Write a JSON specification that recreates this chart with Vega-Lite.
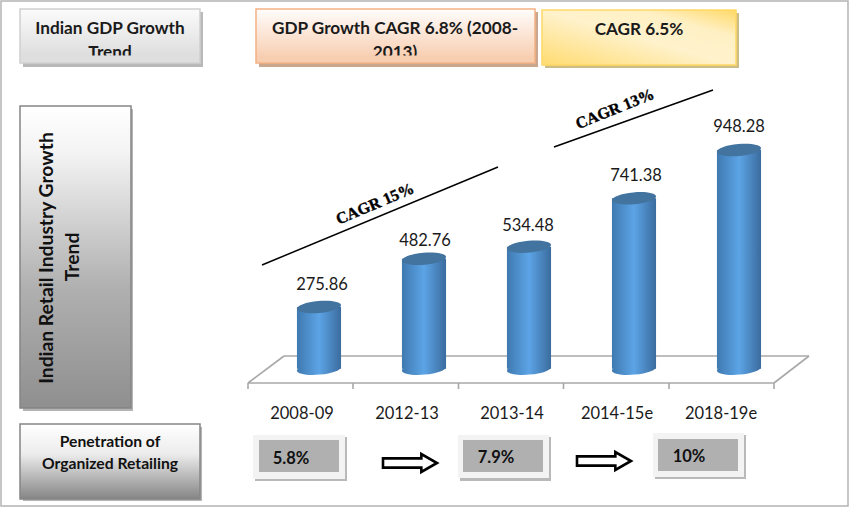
{
"$schema":"https://vega.github.io/schema/vega-lite/v6.json",
"width":850,"height":507,"padding":0,"autosize":{"type":"fit","contains":"padding"},
"background":"white",
"config":{"view":{"stroke":null},"text":{"font":"Lato"}},
"resolve":{"scale":{"x":"independent","y":"independent"}},
"layer":[
{"encoding":{
  "x":{"field":"x","type":"quantitative","scale":{"domain":[0,850],"nice":false,"zero":false},"axis":null},
  "y":{"field":"y","type":"quantitative","scale":{"domain":[507,0],"nice":false,"zero":false},"axis":null}},
 "layer":[
  {"data":{"values":[{"name":"frame","x":1,"y":1,"x2":848,"y2":506}]},
   "mark":{"type":"rect","fill":"white","stroke":"#b4b4b4","strokeWidth":1.5},
   "encoding":{"x2":{"field":"x2"},"y2":{"field":"y2"}}},
  {"data":{"values":[
    {"name":"front","x":248,"y":383,"x2":774,"y2":383},
    {"name":"back","x":284,"y":356,"x2":809,"y2":356},
    {"name":"left","x":248,"y":383,"x2":284,"y2":356},
    {"name":"right","x":774,"y":383,"x2":809,"y2":356},
    {"name":"t0","x":248,"y":383,"x2":248,"y2":389},
    {"name":"t1","x":353,"y":383,"x2":353,"y2":389},
    {"name":"t2","x":458.5,"y":383,"x2":458.5,"y2":389},
    {"name":"t3","x":563.5,"y":383,"x2":563.5,"y2":389},
    {"name":"t4","x":669,"y":383,"x2":669,"y2":389},
    {"name":"t5","x":774,"y":383,"x2":774,"y2":389}]},
   "mark":{"type":"rule","stroke":"#a8a8a8","strokeWidth":1.6},
   "encoding":{"x2":{"field":"x2"},"y2":{"field":"y2"}}}
 ]},
{"data":{"values":[
   {"period":"2008-09","value":275.86},
   {"period":"2012-13","value":482.76},
   {"period":"2013-14","value":534.48},
   {"period":"2014-15e","value":741.38},
   {"period":"2018-19e","value":948.28}]},
 "encoding":{
  "x":{"field":"period","type":"nominal","axis":null,"scale":{"domain":["2008-09","2012-13","2013-14","2014-15e","2018-19e"],"range":[266.5,791.5],"paddingInner":0.58,"paddingOuter":0.29}},
  "y":{"field":"value","type":"quantitative","axis":null,"scale":{"domain":[-580.3,1590.6],"nice":false,"zero":false}}},
 "layer":[
  {"mark":{"type":"point","filled":true,"opacity":1,"size":1945,"shape":"M-1,0.09 A1,0.27 -5 1 0 1,-0.09 A1,0.27 -5 1 0 -1,0.09 Z",
     "fill":{"gradient":"linear","x1":0,"y1":0,"x2":1,"y2":0,"stops":[{"offset":0,"color":"#3f79b0"},{"offset":0.5,"color":"#5ca4e6"},{"offset":1,"color":"#3b6c9e"}]}},
   "encoding":{"y":{"datum":12,"type":"quantitative","axis":null,"scale":{"domain":[-580.3,1590.6],"nice":false,"zero":false}}}},
  {"mark":{"type":"bar",
     "fill":{"gradient":"linear","x1":0,"y1":0,"x2":1,"y2":0,"stops":[{"offset":0,"color":"#3f79b0"},{"offset":0.5,"color":"#5ca4e6"},{"offset":1,"color":"#3b6c9e"}]}},
   "encoding":{"y2":{"datum":12}}},
  {"mark":{"type":"point","filled":true,"opacity":1,"size":1945,"fill":"#43749f","shape":"M-1,0.09 A1,0.27 -5 1 0 1,-0.09 A1,0.27 -5 1 0 -1,0.09 Z"}}
 ]},
{"encoding":{
  "x":{"field":"x","type":"quantitative","scale":{"domain":[0,850],"nice":false,"zero":false},"axis":null},
  "y":{"field":"y","type":"quantitative","scale":{"domain":[507,0],"nice":false,"zero":false},"axis":null}},
 "layer":[
  {"data":{"values":[
     {"name":"gdp","x":23,"y":12,"x2":203,"y2":67,"shade":"#b9b9b9"},
     {"name":"cagr68","x":259,"y":12,"x2":538,"y2":67,"shade":"#c9a68e"},
     {"name":"cagr65","x":545,"y":13,"x2":739,"y2":68,"shade":"#cdbd85"},
     {"name":"retail","x":23,"y":109,"x2":133,"y2":411,"shade":"#b4b4b4"},
     {"name":"penetration","x":23,"y":427,"x2":202,"y2":501,"shade":"#b4b4b4"},
     {"name":"p1","x":255,"y":437,"x2":347,"y2":481,"shade":"#b9b9b9"},
     {"name":"p2","x":460,"y":437,"x2":551,"y2":481,"shade":"#b9b9b9"},
     {"name":"p3","x":655,"y":435,"x2":746,"y2":479,"shade":"#b9b9b9"}]},
   "mark":{"type":"rect"},
   "encoding":{"x2":{"field":"x2"},"y2":{"field":"y2"},"fill":{"field":"shade","type":"nominal","scale":null,"legend":null}}},
  {"data":{"values":[{"name":"gdp","x":20,"y":9,"x2":200,"y2":63}]},
   "mark":{"type":"rect","stroke":"#cfcfcf","strokeWidth":1.5,"fill":{"gradient":"linear","x1":0,"y1":0,"x2":0,"y2":1,"stops":[{"offset":0,"color":"#fbfbfb"},{"offset":1,"color":"#d9d9d9"}]}},
   "encoding":{"x2":{"field":"x2"},"y2":{"field":"y2"}}},
  {"data":{"values":[{"name":"cagr68","x":256,"y":9,"x2":535,"y2":63}]},
   "mark":{"type":"rect","stroke":"#f4b183","strokeWidth":1.5,"fill":{"gradient":"linear","x1":0,"y1":0,"x2":0,"y2":1,"stops":[{"offset":0,"color":"#fffdfc"},{"offset":1,"color":"#f7c9a9"}]}},
   "encoding":{"x2":{"field":"x2"},"y2":{"field":"y2"}}},
  {"data":{"values":[{"name":"cagr65","x":542,"y":10,"x2":736,"y2":65}]},
   "mark":{"type":"rect","stroke":"#ffd966","strokeWidth":1.5,"fill":{"gradient":"linear","x1":0,"y1":1,"x2":1,"y2":0,"stops":[{"offset":0,"color":"#ffdb70"},{"offset":0.5,"color":"#fff2cc"},{"offset":0.75,"color":"#fff0c4"},{"offset":1,"color":"#ffd966"}]}},
   "encoding":{"x2":{"field":"x2"},"y2":{"field":"y2"}}},
  {"data":{"values":[{"name":"retail","x":20,"y":106,"x2":131,"y2":408}]},
   "mark":{"type":"rect","stroke":"#858585","strokeWidth":1.5,"fill":{"gradient":"linear","x1":0,"y1":0,"x2":0,"y2":1,"stops":[{"offset":0,"color":"#ffffff"},{"offset":0.15,"color":"#f4f4f4"},{"offset":0.6,"color":"#b0b0b0"},{"offset":1,"color":"#8f8f8f"}]}},
   "encoding":{"x2":{"field":"x2"},"y2":{"field":"y2"}}},
  {"data":{"values":[{"name":"penetration","x":20,"y":424,"x2":200,"y2":499}]},
   "mark":{"type":"rect","stroke":"#858585","strokeWidth":1.5,"fill":{"gradient":"linear","x1":0,"y1":0,"x2":0,"y2":1,"stops":[{"offset":0,"color":"#ffffff"},{"offset":0.4,"color":"#ececec"},{"offset":1,"color":"#858585"}]}},
   "encoding":{"x2":{"field":"x2"},"y2":{"field":"y2"}}},
  {"data":{"values":[
     {"name":"p1","x":253,"y":435,"x2":345,"y2":479},
     {"name":"p2","x":458,"y":435,"x2":549,"y2":478},
     {"name":"p3","x":653,"y":433,"x2":744,"y2":477}]},
   "mark":{"type":"rect","fill":"#f3f3f3"},
   "encoding":{"x2":{"field":"x2"},"y2":{"field":"y2"}}},
  {"data":{"values":[
     {"name":"p1","x":259,"y":440,"x2":339,"y2":472},
     {"name":"p2","x":463,"y":440,"x2":543,"y2":472},
     {"name":"p3","x":658,"y":439,"x2":738,"y2":471}]},
   "mark":{"type":"rect","fill":"#b0b0b0"},
   "encoding":{"x2":{"field":"x2"},"y2":{"field":"y2"}}},
  {"data":{"values":[
     {"t":"Indian GDP Growth","x":110,"y":29},
     {"t":"Trend","x":110,"y":52.5},
     {"t":"GDP Growth CAGR 6.8% (2008-","x":395,"y":29},
     {"t":"2013)","x":395,"y":52.5},
     {"t":"CAGR 6.5%","x":639,"y":30}]},
   "mark":{"type":"text","font":"Lato","fontWeight":"bold","fontSize":17.2,"fill":"#1a1a1a","align":"center","baseline":"middle"},
   "encoding":{"text":{"field":"t"}}},
  {"data":{"values":[{"name":"c1","x":21,"y":55.5,"x2":199,"y2":62.2}]},
   "mark":{"type":"rect","fill":"#dedede"},
   "encoding":{"x2":{"field":"x2"},"y2":{"field":"y2"}}},
  {"data":{"values":[{"name":"c2","x":257,"y":55.5,"x2":534,"y2":62.2}]},
   "mark":{"type":"rect","fill":"#f8ceb1"},
   "encoding":{"x2":{"field":"x2"},"y2":{"field":"y2"}}},
  {"data":{"values":[
     {"t":"Indian Retail Industry Growth","x":47,"y":258},
     {"t":"Trend","x":73,"y":257}]},
   "mark":{"type":"text","font":"Lato","fontWeight":"bold","fontSize":19.3,"fill":"#111111","angle":270,"align":"center","baseline":"middle"},
   "encoding":{"text":{"field":"t"}}},
  {"data":{"values":[
     {"t":"Penetration of","x":110,"y":442},
     {"t":"Organized Retailing","x":110,"y":464}]},
   "mark":{"type":"text","font":"Lato","fontWeight":"bold","fontSize":15.7,"fill":"#111111","align":"center","baseline":"middle"},
   "encoding":{"text":{"field":"t"}}},
  {"data":{"values":[
     {"t":"5.8%","x":291,"y":459},
     {"t":"7.9%","x":496,"y":458},
     {"t":"10%","x":689,"y":457}]},
   "mark":{"type":"text","font":"Lato","fontWeight":"bold","fontSize":16.5,"fill":"#111111","align":"center","baseline":"middle"},
   "encoding":{"text":{"field":"t"}}},
  {"data":{"values":[
     {"t":"2008-09","x":302,"y":414},
     {"t":"2012-13","x":407,"y":414},
     {"t":"2013-14","x":512,"y":414},
     {"t":"2014-15e","x":617,"y":414},
     {"t":"2018-19e","x":721,"y":414},
     {"t":"275.86","x":322,"y":285},
     {"t":"482.76","x":425,"y":241},
     {"t":"534.48","x":528,"y":226},
     {"t":"741.38","x":636,"y":176},
     {"t":"948.28","x":739,"y":127}]},
   "mark":{"type":"text","font":"Lato","fontSize":16.5,"fill":"#1a1a1a","align":"center","baseline":"middle"},
   "encoding":{"text":{"field":"t"}}},
  {"data":{"values":[
     {"name":"l15","x":262,"y":265,"x2":498,"y2":167},
     {"name":"l13","x":554,"y":147,"x2":713,"y2":90}]},
   "mark":{"type":"rule","stroke":"#000000","strokeWidth":1.5},
   "encoding":{"x2":{"field":"x2"},"y2":{"field":"y2"}}},
  {"data":{"values":[
     {"t":"CAGR 15%","x":375,"y":204}]},
   "mark":{"type":"text","font":"Liberation Serif","fontWeight":"bold","fontSize":16,"fill":"#000000","stroke":"#000000","strokeWidth":0.4,"angle":337,"align":"center","baseline":"middle"},
   "encoding":{"text":{"field":"t"}}},
  {"data":{"values":[
     {"t":"CAGR 13%","x":615,"y":109}]},
   "mark":{"type":"text","font":"Liberation Serif","fontWeight":"bold","fontSize":16,"fill":"#000000","stroke":"#000000","strokeWidth":0.4,"angle":338,"align":"center","baseline":"middle"},
   "encoding":{"text":{"field":"t"}}},
  {"data":{"values":[
     {"name":"a1","x":410,"y":463},
     {"name":"a2","x":604,"y":461}]},
   "mark":{"type":"point","filled":true,"opacity":1,"fill":"white","stroke":"black","strokeWidth":2.6,"strokeOpacity":1,"size":2916,"shape":"M-1,-0.17 L0.42,-0.17 L0.42,-0.33 L1,0 L0.42,0.33 L0.42,0.17 L-1,0.17 Z"}}
 ]}
]}
